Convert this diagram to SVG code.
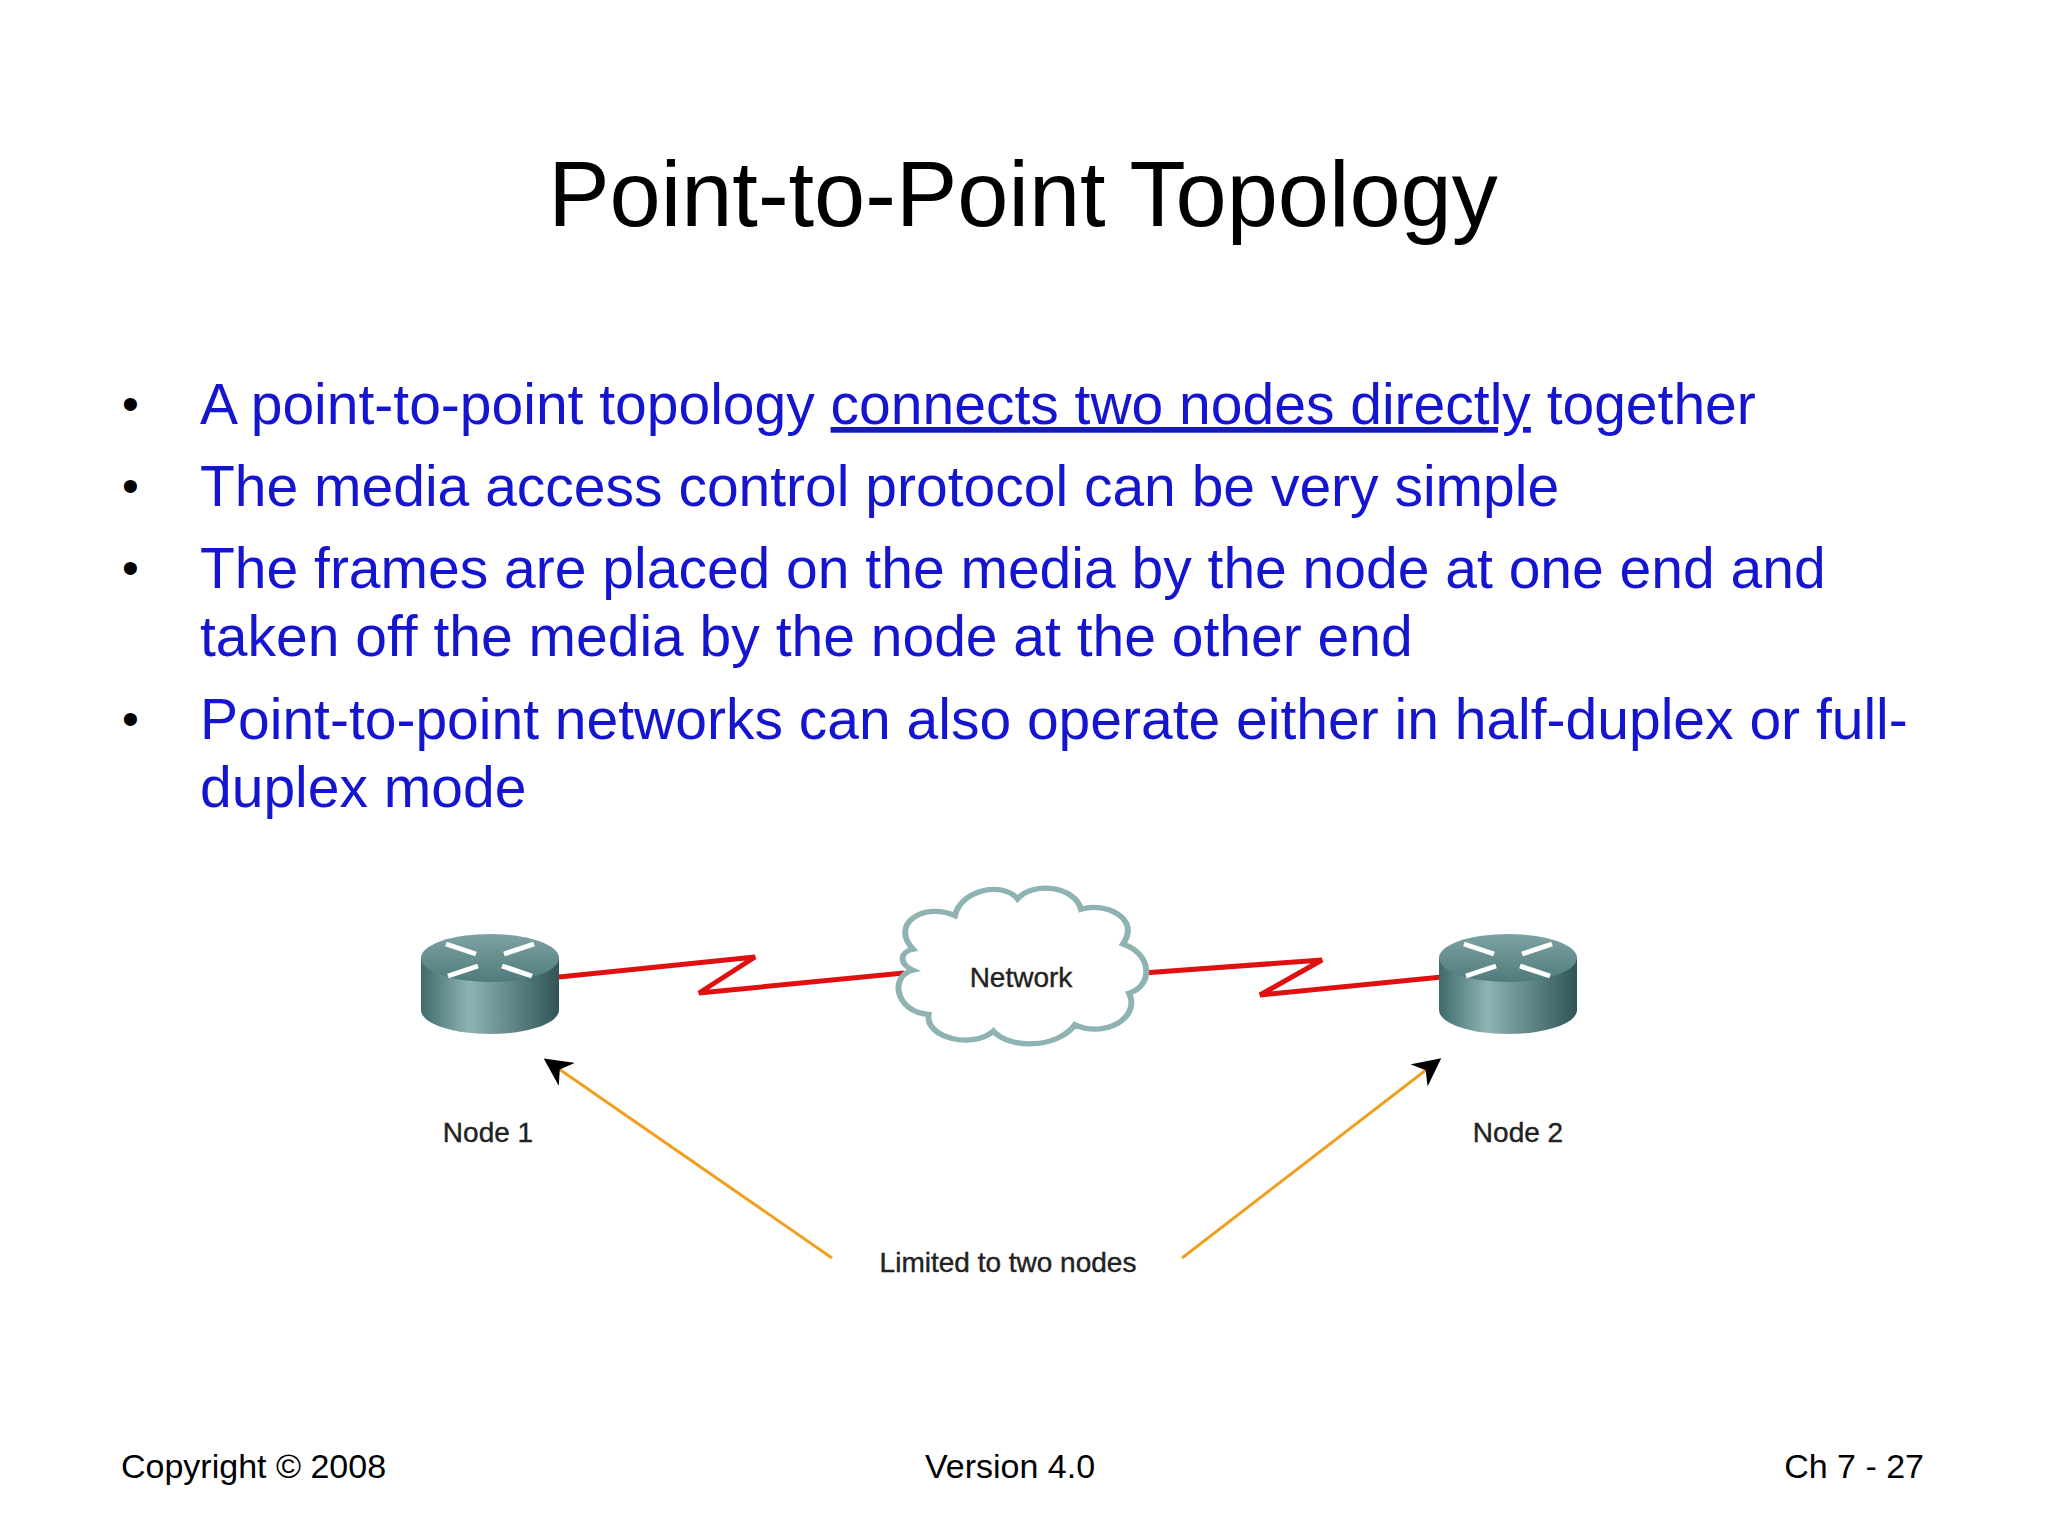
<svg xmlns="http://www.w3.org/2000/svg" width="2048" height="1536" viewBox="0 0 2048 1536">
<style>
.t{font-family:"Liberation Sans",Arial,sans-serif}
.b{font-size:57px;fill:#1515d0}
.d{font-size:48px;fill:#000}
.f{font-size:34px;fill:#000}
.l{font-size:28px;fill:#222;stroke:#222;stroke-width:0.4}
</style>
<defs>
<linearGradient id="body" x1="0" x2="1" y1="0" y2="0">
<stop offset="0" stop-color="#3f6b6c"/><stop offset="0.35" stop-color="#8fb3b3"/><stop offset="1" stop-color="#2f5556"/>
</linearGradient>
<linearGradient id="top" x1="0" x2="0" y1="0" y2="1">
<stop offset="0" stop-color="#7ea3a4"/><stop offset="1" stop-color="#4f7a7b"/>
</linearGradient>
<marker id="ah" viewBox="0 0 10 10" refX="9" refY="5" markerWidth="28" markerHeight="28" orient="auto" markerUnits="userSpaceOnUse">
<path d="M0,0 L10,5 L0,10 L3,5 z" fill="#000"/>
</marker>
<g id="router">
<path d="M-69,-14 L-69,38 A69,24 0 0 0 69,38 L69,-14 z" fill="url(#body)"/>
<ellipse cx="0" cy="-14" rx="69" ry="24" fill="url(#top)"/>
<g stroke="#fff" stroke-width="5" fill="none">
<path d="M-44,-28 L-14,-18 M-12,-6 L-42,4 M12,-6 L42,4 M14,-18 L44,-28"/>
</g>
</g>
</defs>
<rect width="2048" height="1536" fill="#fff"/>
<text class="t" x="1023" y="226" font-size="92" text-anchor="middle">Point-to-Point Topology</text>
<g class="t b">
<text class="d" x="122" y="420">•</text>
<text x="200" y="424">A point-to-point topology <tspan text-decoration="underline">connects two nodes directly</tspan> together</text>
<text class="d" x="122" y="502">•</text>
<text x="200" y="506">The media access control protocol can be very simple</text>
<text class="d" x="122" y="584">•</text>
<text x="200" y="588">The frames are placed on the media by the node at one end and</text>
<text x="200" y="656">taken off the media by the node at the other end</text>
<text class="d" x="122" y="735">•</text>
<text x="200" y="739">Point-to-point networks can also operate either in half-duplex or full-</text>
<text x="200" y="807">duplex mode</text>
</g>
<g id="connectors" fill="none">
<polyline points="559,977 755,957 699,993 904,973" stroke="#e01010" stroke-width="5"/>
<polyline points="1143,973 1322,960 1260,995 1442,977" stroke="#e01010" stroke-width="5"/>
<line x1="832" y1="1258" x2="546" y2="1060" stroke="#f0a020" stroke-width="3" marker-end="url(#ah)"/>
<line x1="1182" y1="1258" x2="1439" y2="1060" stroke="#f0a020" stroke-width="3" marker-end="url(#ah)"/>
</g>
<g id="node1"><use href="#router" x="490" y="972"/><text class="t l" x="488" y="1142" text-anchor="middle">Node 1</text></g>
<g id="node2"><use href="#router" x="1508" y="972"/><text class="t l" x="1518" y="1142" text-anchor="middle">Node 2</text></g>
<g id="network">
<path transform="translate(1021,966) scale(1.2,1.05) translate(-1015,-966)" d="M925,950 C905,925 935,905 960,918 C965,893 1000,885 1012,902 C1025,885 1060,890 1065,912 C1085,905 1115,920 1100,945 C1125,955 1125,985 1105,992 C1115,1015 1085,1035 1060,1022 C1045,1045 1005,1045 992,1028 C975,1045 935,1035 938,1012 C910,1010 905,975 925,970 C912,963 915,952 925,950 z" fill="#fff" stroke="#8fb3b3" stroke-width="5"/>
<text class="t l" x="1021" y="987" text-anchor="middle">Network</text>
</g>
<text class="t l" x="1008" y="1272" text-anchor="middle">Limited to two nodes</text>
<g class="t f">
<text x="121" y="1478">Copyright © 2008</text>
<text x="1010" y="1478" text-anchor="middle">Version 4.0</text>
<text x="1924" y="1478" text-anchor="end">Ch 7 - 27</text>
</g>
</svg>
